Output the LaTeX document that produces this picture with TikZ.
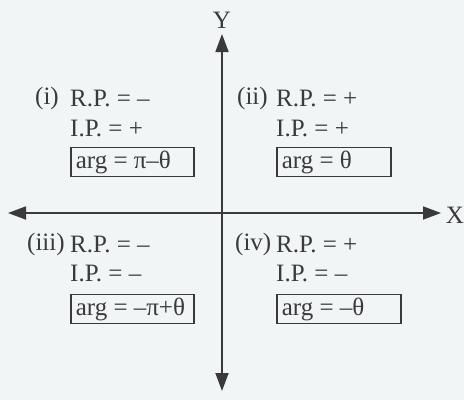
\documentclass[tikz,border=0pt]{standalone}
\usepackage{fontspec}
\setmainfont{Liberation Serif}
\usetikzlibrary{arrows.meta}
\definecolor{bg}{HTML}{F1F5F6}
\definecolor{ink}{HTML}{3A3A3A}
\newcommand{\argtxt}[2]{\makebox[#1][l]{#2}}
\begin{document}
\begin{tikzpicture}[x=1pt,y=-1pt,
  lbl/.style={anchor=west,inner sep=0pt,text=ink,font=\fontsize{25}{28}\selectfont},
  argbox/.style={anchor=west,draw=ink,line width=1.6pt,inner xsep=5pt,inner ysep=0pt,minimum height=29pt,text=ink,font=\fontsize{25}{28}\selectfont},
  axis/.style={draw=ink,line width=1.8pt,-{Triangle[length=18pt,width=13pt]}}]
\fill[bg] (0,0) rectangle (464,400);
\useasboundingbox (0,0) rectangle (464,400);
% axes
\coordinate (o) at (222,213);
\coordinate (xl) at (8,213);
\coordinate (xr) at (441,213);
\coordinate (yt) at (222,34);
\coordinate (yb) at (222,391);
\draw[axis] (o) -- (xr);
\draw[axis] (o) -- (xl);
\draw[axis] (o) -- (yt);
\draw[axis] (o) -- (yb);
\node[lbl,anchor=center] (X) at (455,215) {X};
\node[lbl,anchor=center] (Y) at (222,20) {Y};
% quadrant (i)
\node[lbl] (n1) at (35,98) {(i)};
\node[lbl] (rp1) at (70,98) {R.P. = –};
\node[lbl] (ip1) at (70,128) {I.P. = +};
\node[argbox] (a1) at (70,162) {\argtxt{113pt}{arg = π–θ}};
% quadrant (ii)
\node[lbl] (n2) at (237,98) {(ii)};
\node[lbl] (rp2) at (276,98) {R.P. = +};
\node[lbl] (ip2) at (276,128) {I.P. = +};
\node[argbox] (a2) at (276,162) {\argtxt{104pt}{arg = θ}};
% quadrant (iii)
\node[lbl] (n3) at (27,244) {(iii)};
\node[lbl] (rp3) at (70,244) {R.P. = –};
\node[lbl] (ip3) at (70,273) {I.P. = –};
\node[argbox] (a3) at (70,309) {\argtxt{113pt}{arg = –π+θ}};
% quadrant (iv)
\node[lbl] (n4) at (235,244) {(iv)};
\node[lbl] (rp4) at (276,244) {R.P. = +};
\node[lbl] (ip4) at (276,273) {I.P. = –};
\node[argbox] (a4) at (276,309) {\argtxt{114pt}{arg = –θ}};
\end{tikzpicture}
\end{document}
